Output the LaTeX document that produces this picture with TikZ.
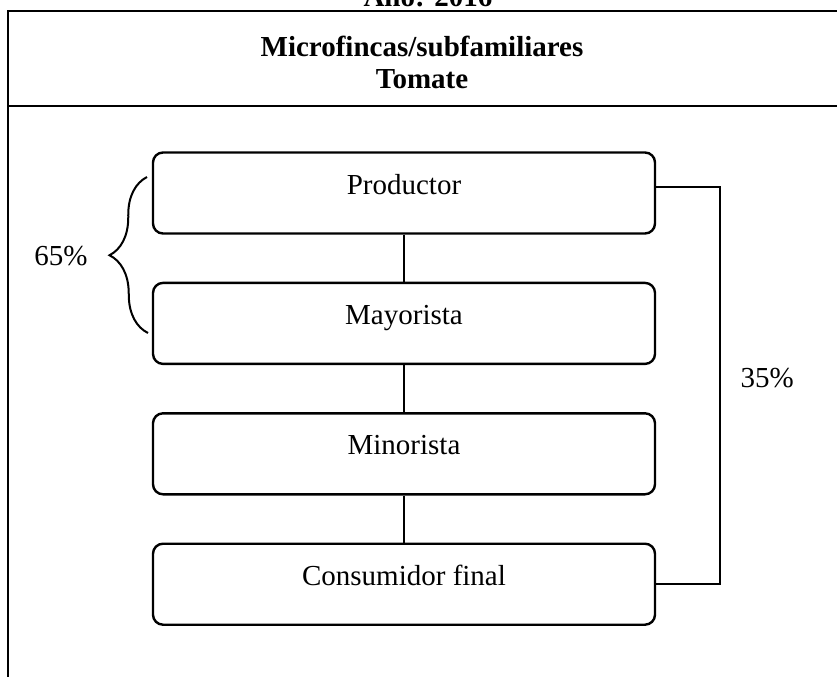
\documentclass[tikz,border=0pt]{standalone}
\usepackage{fontspec}
\setmainfont{Liberation Serif}
\usetikzlibrary{positioning,decorations.pathreplacing}

\begin{document}
\begin{tikzpicture}[
  x=1pt,y=-1pt,
  font=\fontsize{29}{33}\selectfont,
  node distance=47pt and 47pt,
  box/.style={draw,rounded corners=10pt,line width=2.4pt,minimum width=502pt,minimum height=81pt,text height=21pt,text depth=19pt,inner sep=0pt},
  conn/.style={line width=2pt},
  frm/.style={line width=1.4pt}
]
\useasboundingbox (0,0) rectangle (837,677);

% marco
\draw[frm] (837,11) -- (8,11) -- (8,677);
\draw[frm] (8,106) -- (837,106);
\node[font=\fontsize{29}{32}\selectfont\bfseries,anchor=base] (anio) at (428,7) {Año: 2016};
\node[font=\fontsize{29}{32}\selectfont\bfseries,align=center] (tit) at (422,62)
  {Microfincas/subfamiliares\\Tomate};

% cadena
\node[box] (prod) at (404,193) {Productor};
\node[box,below=of prod] (may) {Mayorista};
\node[box,below=of may] (min) {Minorista};
\node[box,below=of min] (cons) {Consumidor final};

\draw[conn] (prod) -- (may);
\draw[conn] (may) -- (min);
\draw[conn] (min) -- (cons);
\draw[conn] ([yshift=6pt]prod.east) -- ++(64,0) |- (cons.east)
  node[pos=0.24,right=16pt] (p35) {35\%};

% llave
\coordinate (bb) at (148,333);
\coordinate (bt) at (147,177);
\draw[conn,decorate,decoration={brace,amplitude=38pt}] (bb) -- (bt);
\node (p65) at (61,256) {65\%};
\end{tikzpicture}
\end{document}
